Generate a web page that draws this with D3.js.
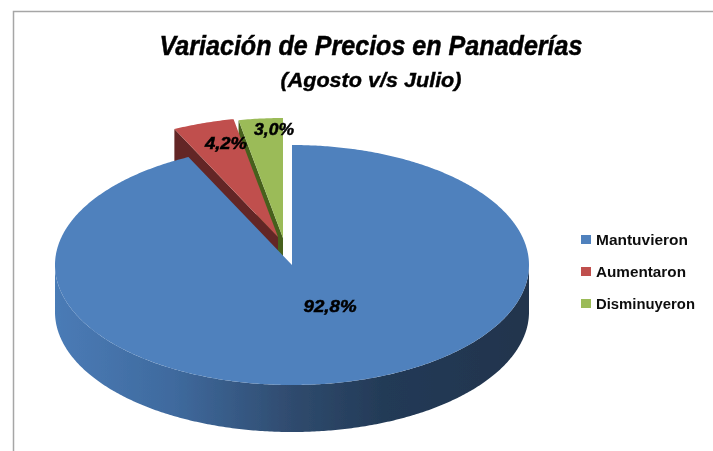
<!DOCTYPE html>
<html><head><meta charset="utf-8">
<script src="https://cdn.jsdelivr.net/npm/d3@7"></script>
<style>html,body{margin:0;padding:0;background:#fff}svg{display:block}</style>
</head><body>
<svg id="c" width="713" height="451"></svg>
<script>
const categories = ["Mantuvieron","Aumentaron","Disminuyeron"];
const values = [92.8,4.2,3.0];
const valueLabels = ["92,8%","4,2%","3,0%"];
const colors = ["#4f81bd","#c0504d","#9bbb59"];
const wallColors = ["#2f5078","#632826","#47601f"];

const svg = d3.select("#c");
const defs = svg.append("defs");
defs.append("filter").attr("id","soft").attr("x","-5%").attr("y","-5%").attr("width","110%").attr("height","110%")
  .append("feGaussianBlur").attr("stdDeviation",0.5);
const g = defs.append("linearGradient").attr("id","wall").attr("gradientUnits","userSpaceOnUse")
  .attr("x1",55).attr("x2",529).attr("y1",0).attr("y2",0);
[[0,"#4a7bb6"],[0.25,"#3f6a9e"],[0.5,"#2f4b6e"],[0.7,"#233a56"],[1,"#20344d"]].forEach(s=>
  g.append("stop").attr("offset",s[0]).attr("stop-color",s[1]));

const root = svg.append("g").attr("filter","url(#soft)");
// frame
root.append("path").attr("d",d3.line()([[13.5,451],[13.5,11.5],[713,11.5]]))
  .attr("fill","none").attr("stroke","#a6a6a6").attr("stroke-width",1.5);

const rx=237, ry=120, depth=47;
const centers=[[292,265],[278,237],[283,238]];
const arcs=d3.pie().sort(null).value(d=>d)(values);
const line=d3.line();
const pt=(c,a,r=1,dz=0)=>[c[0]+rx*r*Math.sin(a), c[1]-ry*r*Math.cos(a)+dz];
const arcPts=(c,a0,a1,dz=0)=>{
  const n=Math.max(2,Math.ceil(Math.abs(a1-a0)/0.01));
  return d3.range(n+1).map(i=>pt(c,a0+(a1-a0)*i/n,1,dz));
};
const topShape=(c,d)=>line([c,...arcPts(c,d.startAngle,d.endAngle)])+"Z";

// order: green, red, blue (back to front)
[2,1,0].forEach(i=>{
  const d=arcs[i], c=centers[i];
  if(i===0){
    const a0=Math.PI/2,a1=3*Math.PI/2;
    root.append("path").attr("d",line([...arcPts(c,a0,a1),...arcPts(c,a1,a0,depth)])+"Z").attr("fill","url(#wall)");
  } else {
    const p=pt(c,d.startAngle);
    root.append("path").attr("d",line([p,c,[c[0],c[1]+depth],[p[0],p[1]+depth]])+"Z").attr("fill",wallColors[i]);
  }
  root.append("path").attr("d",topShape(c,d)).attr("fill",colors[i]);
});

// title
const narrow='"Liberation Sans Narrow","Liberation Sans",sans-serif';
root.append("text").attr("x",371).attr("y",55).attr("text-anchor","middle")
  .attr("textLength",423).attr("lengthAdjust","spacingAndGlyphs")
  .attr("font-family",narrow).attr("font-size",28).attr("font-weight","bold").attr("font-style","italic")
  .attr("fill","#000").attr("stroke","#000").attr("stroke-width",0.5).text("Variación de Precios en Panaderías");
root.append("text").attr("x",371).attr("y",87).attr("text-anchor","middle")
  .attr("textLength",181).attr("lengthAdjust","spacingAndGlyphs")
  .attr("font-family",narrow).attr("font-size",21).attr("font-weight","bold").attr("font-style","italic")
  .attr("fill","#000").attr("stroke","#000").attr("stroke-width",0.4).text("(Agosto v/s Julio)");

// data labels
const labelPos=[[330,312],[226,149],[274,135]];
const labelWidths=[53,42,40];
valueLabels.forEach((t,i)=>root.append("text").attr("x",labelPos[i][0]).attr("y",labelPos[i][1])
  .attr("text-anchor","middle").attr("font-family",'"Liberation Sans",sans-serif')
  .attr("textLength",labelWidths[i]).attr("lengthAdjust","spacingAndGlyphs")
  .attr("font-size",17).attr("font-weight","bold").attr("font-style","italic")
  .attr("fill","#000").attr("stroke","#000").attr("stroke-width",0.5).text(t));

// legend
const ly=d3.scalePoint().domain(categories).range([239.5,303.5]);
categories.forEach((t,i)=>{
  root.append("rect").attr("x",581).attr("y",ly(t)-4.5).attr("width",10).attr("height",9).attr("fill",colors[i]);
  root.append("text").attr("x",596).attr("y",ly(t)+5.5).attr("font-family",'"Liberation Sans",sans-serif')
    .attr("font-size",14.5).attr("font-weight","bold").attr("fill","#111")
    .attr("textLength",[92,90,99][i]).attr("lengthAdjust","spacingAndGlyphs").text(t);
});
</script>
</body></html>
